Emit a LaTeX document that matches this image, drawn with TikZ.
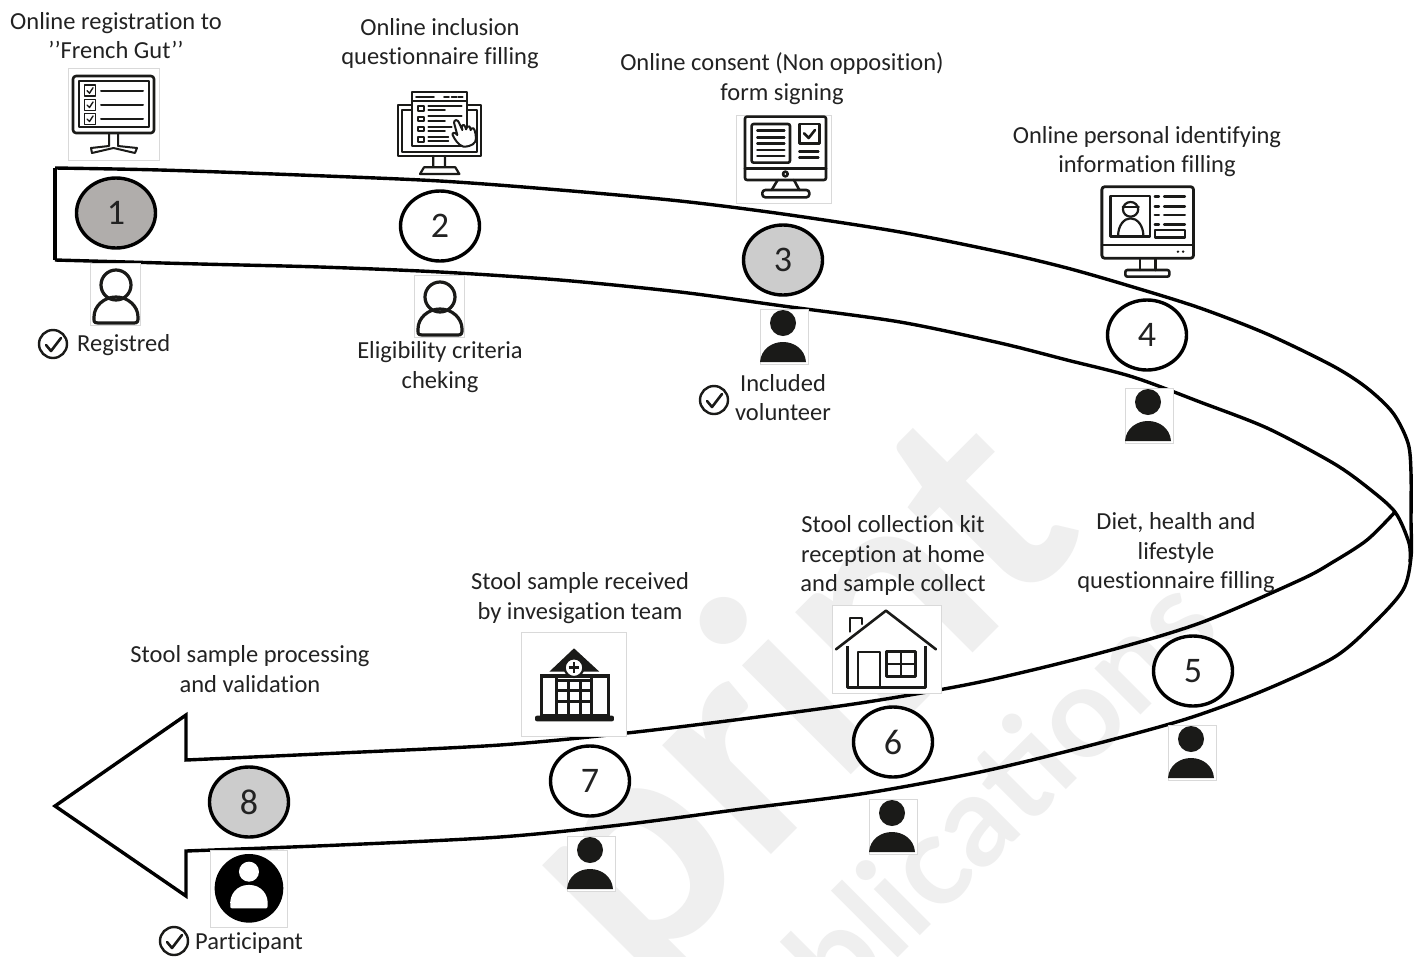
\documentclass[tikz,border=0pt]{standalone}
\usepackage{fontspec}
\setmainfont{Carlito}[Ligatures=NoCommon]
\newfontfamily\wmfont{Lato}[BoldFont={Lato Bold}]
\usetikzlibrary{shapes.geometric}
\definecolor{ink}{HTML}{1A1A18}
\definecolor{txt}{HTML}{222222}
\definecolor{wm}{HTML}{EFEFEF}
\definecolor{boxline}{HTML}{D9D9D9}
\tikzset{
 ribbon/.style={line width=3.4pt,black,line join=miter,miter limit=10},
 stepcircle/.style={ellipse,draw=black,line width=3.4pt,minimum width=79pt,minimum height=70pt,inner sep=0pt,fill=white,text=txt,font=\fontsize{36}{36}\selectfont},
 lab/.style={align=center,text=txt,inner sep=0pt,font=\fontsize{24.5}{29.5}\selectfont},
 iconbox/.style={fill=white,draw=boxline,line width=.8pt},
 ic/.style={draw=ink,line width=2.6pt,line cap=round,line join=round},
 oksign/.style={circle,draw=ink,line width=2.4pt,minimum size=28pt,inner sep=0pt},
 oktick/.style={draw=ink,line width=2.6pt,line cap=round,line join=round},
 personfill/.pic={
  \path[iconbox] (0,0) rectangle (48,55);
  \fill[ink] (23,14) circle[radius=13];
  \fill[ink] (0,53) .. controls (1,40) and (12,33) .. (23,33) .. controls (34,33) and (45,40) .. (46,53) -- cycle;
 },
 personline/.pic={
  \path[iconbox] (0,0) rectangle (50,62);
  \draw[ink,line width=3.2pt] (26,22) circle[radius=15];
  \draw[ink,line width=3.2pt,line join=round] (8,60) .. controls (3,60) and (4,57) .. (4,54) .. controls (4,43) and (14,34) .. (26,34) .. controls (38,34) and (48,43) .. (48,54) .. controls (48,58) and (48,60) .. (44,60) -- cycle;
 },
}
\begin{document}
\begin{tikzpicture}[x=1pt,y=-1pt]
\useasboundingbox (0,0) rectangle (1423,956);
\fill[white] (0,0) rectangle (1423,956);
% watermark
\begin{scope}
\clip (0,0) rectangle (1423,956);
\node[rotate=45,text=wm,inner sep=0pt,anchor=base west,font=\wmfont\bfseries\fontsize{300}{300}\selectfont] (wmone) at (638,988) {print};
\node[rotate=45,text=wm,inner sep=0pt,anchor=center,font=\wmfont\bfseries\fontsize{127}{127}\selectfont] (wmtwo) at (1000,790) {blications};
\end{scope}
% ribbon
\draw[ribbon]
 plot[smooth,tension=.5] coordinates {(55,168) (160,170) (300,175) (440,181) (560,190) (680,201) (783,214) (900,232) (1000,252) (1067,268) (1133,287) (1200,308) (1267,334) (1333,366) (1367,388) (1393,413) (1408,443) (1411,473) (1411,520) (1411,557) (1403,590) (1372,625) (1333,658) (1260,692) (1183,720) (1080,748) (980,772) (867,793) (750,808) (620,825) (500,837) (340,845) (186,851)}
 -- (186,896) -- (55,806) -- (186,715) -- (186,760)
 -- plot[smooth,tension=.5] coordinates {(186,760) (340,753) (500,745) (627,733) (750,718) (867,702) (980,682) (1100,653) (1200,623) (1300,580) (1333,562) (1367,540) (1395,512)};
\draw[ribbon,line width=4pt] (55,168) -- (55,260);
\draw[ribbon]
 plot[smooth,tension=.5] coordinates {(55,260) (200,264) (320,267) (440,272) (560,280) (680,292) (783,306) (900,322) (1000,343) (1067,360) (1133,377) (1200,402) (1267,428) (1333,463) (1367,487) (1395,512) (1409,543) (1410,562)};
% person icons
\pic at (90,263) {personline};
\pic at (414,275) {personline};
\pic at (760,309) {personfill};
\pic at (1125,388) {personfill};
\pic at (1168,725) {personfill};
\pic at (869,799) {personfill};
\pic at (567,836) {personfill};
% monitor 1
\begin{scope}[shift={(68,68)}]
\path[iconbox] (0,0) rectangle (91,92);
\draw[ic,rounded corners=3pt] (5,8) rectangle (86,65);
\draw[ic,line width=2pt] (10.5,13) rectangle (81,59);
\foreach \yy in {22.7,37,51}{
 \draw[ic,line width=1.8pt] (16.5,\yy-5.5) rectangle (27.5,\yy+5.5);
 \draw[ic,line width=1.4pt] (19,\yy) -- (21.5,\yy+2.5) -- (25,\yy-3);
 \draw[ic,line width=2pt] (33,\yy) -- (75,\yy);}
\draw[ic,line width=2pt] (41,65) -- (41,78) -- (23,80) -- (24,85) -- (45.5,80) -- (67,85) -- (69,80) -- (50,78) -- (50,65);
\end{scope}
% monitor 2
\begin{scope}[shift={(380,80)},x=.3333pt,y=-.3333pt]
\draw[ic,line width=2.2pt] (53,75) rectangle (303,228);
\draw[ic,line width=2.2pt] (67,90) rectangle (290,215);
\draw[ic,line width=2.2pt,fill=white] (97,35) rectangle (260,198);
\draw[ic,line width=2.2pt] (97,62) -- (260,62);
\draw[ic,line width=1.8pt] (108,50) -- (162,50) (192,50) -- (207,50) (215,50) -- (230,50) (235,50) -- (248,50);
\foreach \yy in {85,117,147,178}{
 \draw[ic,line width=2pt] (115,\yy-7) rectangle (132,\yy+7);}
\draw[ic,line width=1.8pt] (145,78) -- (245,78) (145,90) -- (195,90) (145,108) -- (245,108) (145,122) -- (195,122) (145,140) -- (215,140) (145,152) -- (195,152) (145,172) -- (205,172) (145,184) -- (205,184);
\draw[ic,line width=2pt,fill=white] (250,200) .. controls (235,195) and (225,180) .. (218,165) .. controls (215,158) and (225,155) .. (232,165) -- (222,128) .. controls (222,118) and (234,118) .. (237,128) -- (247,150) -- (245,140) .. controls (250,130) and (255,135) .. (258,148) -- (262,140) .. controls (267,135) and (270,140) .. (272,150) -- (276,145) .. controls (282,140) and (287,155) .. (288,175) .. controls (288,190) and (275,200) .. (250,200) -- cycle;
\draw[ic,line width=2.2pt] (160,228) -- (160,262) -- (132,262) -- (120,282) -- (238,282) -- (226,262) -- (195,262) -- (195,228) (160,262) -- (195,262);
\end{scope}
% monitor 3
\begin{scope}[shift={(730,110)},x=.3333pt,y=-.3333pt]
\path[iconbox] (20,15) rectangle (304,280);
\draw[ic,rounded corners=2pt] (45,20) rectangle (288,210);
\draw[ic] (45,175) -- (288,175);
\draw[ic,rounded corners=2pt] (65,42) rectangle (180,158);
\foreach \yy in {62,82,100,120,138}{\draw[ic] (82,\yy) -- (163,\yy);}
\draw[ic] (208,42) rectangle (268,100);
\draw[ic] (222,70) -- (236,84) -- (255,60);
\draw[ic] (208,125) -- (265,125) (208,143) -- (265,143);
\draw[ic] (166,192) circle[radius=7];
\draw[ic] (143,210) -- (125,240) (192,210) -- (208,240);
\draw[ic,rounded corners=3pt] (97,240) rectangle (238,262);
\end{scope}
% monitor 4
\begin{scope}[shift={(678,90)},x=.346pt,y=-.3333pt]
\draw[ic,rounded corners=3pt,line width=2.8pt] (1225,290) rectangle (1490,505);
\draw[ic,line width=2.6pt] (1225,465) -- (1490,465);
\draw[ic,line width=2.4pt] (1250,318) rectangle (1365,440);
\draw[ic,line width=2.2pt] (1308,358) circle[radius=22];
\draw[ic,line width=2.2pt] (1272,438) .. controls (1272,405) and (1290,385) .. (1308,385) .. controls (1326,385) and (1345,405) .. (1345,438);
\draw[ic,line width=2.2pt] (1285,350) -- (1332,350);
\foreach \yy in {320,350,375,403}{\draw[ic,line width=2.4pt] (1378,\yy) -- (1390,\yy) (1405,\yy) -- (1465,\yy);}
\draw[ic,line width=2.4pt] (1378,420) rectangle (1465,442);
\fill[ink] (1445,485) circle[radius=4] (1460,485) circle[radius=4];
\draw[ic,line width=2.6pt] (1335,505) -- (1335,540) (1380,505) -- (1380,540);
\draw[ic,line width=2.6pt,rounded corners=2pt] (1293,540) rectangle (1420,560);
\end{scope}
% hospital
\begin{scope}[shift={(500,590)},x=.3333pt,y=-.3333pt]
\path[iconbox] (63,127) rectangle (380,438);
\fill[ink] (222,175) -- (298,245) -- (148,245) -- cycle;
\draw[ink,line width=3.4pt] (125,258) rectangle (170,378) (275,258) rectangle (325,378);
\draw[ink,line width=3pt] (170,272) rectangle (275,378);
\draw[ink,line width=3pt] (170,302) -- (275,302) (170,335) -- (275,335) (205,272) -- (205,378) (240,272) -- (240,378);
\fill[ink] (125,252) rectangle (325,264);
\draw[ink,line width=2.2pt,fill=white] (222,233) circle[radius=28];
\draw[ink,line width=2.4pt] (222,217) -- (222,249) (206,233) -- (238,233);
\fill[ink,rounded corners=2pt] (105,377) rectangle (342,394);
\end{scope}
% house
\begin{scope}[shift={(500,590)},x=.3333pt,y=-.3333pt]
\path[iconbox] (997,45) rectangle (1325,310);
\draw[ic,line width=2.6pt] (1008,178) -- (1158,62) -- (1308,178);
\draw[ic,line width=2.2pt] (1050,125) -- (1050,85) -- (1085,85) -- (1085,102);
\draw[ic,line cap=butt] (1042,168) -- (1042,292) -- (1276,292) -- (1276,168);
\draw[ic,line width=2.2pt] (1075,292) -- (1075,185) -- (1140,185) -- (1140,292);
\draw[ic,line width=2.4pt] (1160,185) rectangle (1246,260);
\draw[ic,line width=2.4pt] (1203,185) -- (1203,260) (1160,222) -- (1246,222);
\end{scope}
% participant
\begin{scope}[shift={(0,690)},x=.3333pt,y=-.3333pt]
\path[iconbox] (630,482) rectangle (862,712);
\fill[black] (747,595) circle[radius=103];
\fill[white] (747,545) circle[radius=30];
\fill[white,rounded corners=1pt] (692,655) .. controls (685,610) and (715,585) .. (747,585) .. controls (779,585) and (809,610) .. (802,655) -- cycle;
\end{scope}
% step circles
\node[stepcircle,fill={rgb,255:red,176;green,173;blue,171}] (one) at (116,213) {1};
\node[stepcircle] (two) at (440,226) {2};
\node[stepcircle,fill={rgb,255:red,204;green,204;blue,204}] (three) at (783,260) {3};
\node[stepcircle] (four) at (1147,335) {4};
\node[stepcircle] (five) at (1193,671) {5};
\node[stepcircle] (six) at (893,742) {6};
\node[stepcircle] (seven) at (590,781) {7};
\node[stepcircle,fill={rgb,255:red,204;green,204;blue,204}] (eight) at (249,802) {8};
% labels
\node[lab] (l1) at (116,35.5) {Online registration to\\’’French Gut’’};
\node[lab] (l2) at (440,43.5) {Online inclusion\\questionnaire filling};
\node[lab] (l3) at (782,78.5) {Online consent (Non opposition)\\form signing};
\node[lab] (l4) at (1147,151.5) {Online personal identifying\\information filling};
\node[lab] (l5) at (1176,553) {Diet, health and\\lifestyle\\questionnaire filling};
\node[lab] (l6) at (893,555.5) {Stool collection kit\\reception at home\\and sample collect};
\node[lab] (l7) at (580,598) {Stool sample received\\by invesigation team};
\node[lab] (l8) at (250,669) {Stool sample processing\\and validation};
\node[lab,anchor=west] (r1) at (77,345) {Registred};
\node[lab] (r2) at (440,367) {Eligibility criteria\\cheking};
\node[lab] (r3) at (783,397.5) {Included\\volunteer};
\node[lab,anchor=west] (r8) at (195,943) {Participant};
% tick signs
\node[oksign] (c1) at (53,344) {};
\draw[oktick] (46,345) -- (51,351) -- (61,338);
\node[oksign] (c3) at (714,400) {};
\draw[oktick] (707,401) -- (712,407) -- (722,394);
\node[oksign] (c8) at (174,941) {};
\draw[oktick] (167,942) -- (172,948) -- (182,935);
\end{tikzpicture}
\end{document}
